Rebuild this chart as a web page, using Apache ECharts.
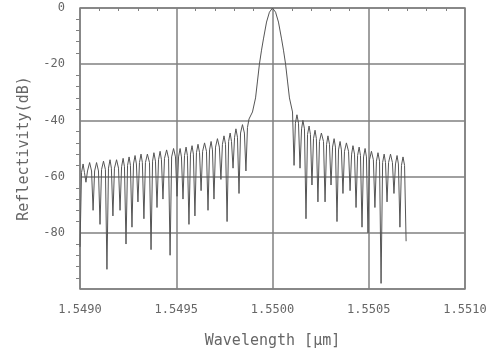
<!DOCTYPE html>
<html>
<head>
<meta charset="utf-8">
<script src="https://cdn.jsdelivr.net/npm/echarts@6/dist/echarts.min.js"></script>
<style>
  html, body { margin: 0; padding: 0; background: #fff; }
  #chart { width: 490px; height: 354px; }
</style>
</head>
<body>
<div id="chart"></div>
<script>
// grating reflection spectrum
// each row of the sidelobe blocks: shoulder, peak, shoulder, null
const leftWavelength = [
  1.549000,
  1.549008, 1.549016, 1.549023, 1.549031,
  1.549039, 1.549050, 1.549060, 1.549068,
  1.549076, 1.549086, 1.549096, 1.549104,
  1.549112, 1.549122, 1.549132, 1.549140,
  1.549148, 1.549156, 1.549163, 1.549171,
  1.549179, 1.549190, 1.549200, 1.549208,
  1.549216, 1.549224, 1.549231, 1.549239,
  1.549247, 1.549255, 1.549262, 1.549270,
  1.549278, 1.549286, 1.549293, 1.549301,
  1.549309, 1.549317, 1.549324, 1.549332,
  1.549340, 1.549350, 1.549361, 1.549369,
  1.549377, 1.549384, 1.549392, 1.549400,
  1.549408, 1.549416, 1.549423, 1.549431,
  1.549439, 1.549450, 1.549460, 1.549468,
  1.549476, 1.549486, 1.549496, 1.549504,
  1.549512, 1.549520, 1.549527, 1.549535,
  1.549543, 1.549551, 1.549558, 1.549566,
  1.549574, 1.549582, 1.549589, 1.549597,
  1.549605, 1.549613, 1.549621, 1.549629,
  1.549637, 1.549647, 1.549657, 1.549665,
  1.549673, 1.549681, 1.549688, 1.549696,
  1.549704, 1.549714, 1.549724, 1.549732,
  1.549740, 1.549748, 1.549756, 1.549764,
  1.549772, 1.549780, 1.549787, 1.549795,
  1.549803, 1.549810, 1.549818, 1.549826,
  1.549834, 1.549844, 1.549854, 1.549862,
  1.549870, 1.549878
];
const leftReflectivity = [
  -85,
  -58.5, -55.5, -58.5, -62,
  -58, -55, -58, -72,
  -58, -55, -58, -77,
  -57.5, -54.5, -57.5, -93,
  -57, -54, -57, -74,
  -57, -54, -57, -72,
  -56.5, -53.5, -56.5, -84,
  -56, -53, -56, -78,
  -55.5, -52.5, -55.5, -69,
  -55, -52, -55, -75,
  -55, -52, -55, -86,
  -54.5, -51.5, -54.5, -71,
  -54, -51, -54, -68,
  -53.5, -50.5, -53.5, -88,
  -53, -50, -53, -67,
  -53, -50, -53, -68,
  -52.5, -49.5, -52.5, -77,
  -52, -49, -52, -74,
  -51.5, -48.5, -51.5, -65,
  -51, -48, -51, -72,
  -50.5, -47.5, -50.5, -68,
  -49.5, -46.5, -49.5, -61,
  -48.5, -45.5, -48.5, -76,
  -47.5, -44.5, -47.5, -57,
  -46, -43, -46, -66,
  -44.5, -41.5, -44.5, -58,
  -42.5, -39.5
];
// main reflection band
const mainWavelength = [
  1.549896, 1.549912, 1.549922, 1.549932, 1.549943, 1.549953, 1.549969, 1.549984,
  1.550000,
  1.550016, 1.550031, 1.550047, 1.550057, 1.550068, 1.550078, 1.550088, 1.550104
];
const mainReflectivity = [
  -37, -32, -26, -20, -15, -11, -5, -1.5,
  0,
  -1.5, -5, -11, -15, -20, -26, -32, -37
];
// each row: null, then shoulder, peak, shoulder
const rightWavelength = [
  1.550112, 1.550119, 1.550127, 1.550135,
  1.550143, 1.550151, 1.550158, 1.550166,
  1.550174, 1.550182, 1.550190, 1.550197,
  1.550205, 1.550213, 1.550221, 1.550228,
  1.550236, 1.550244, 1.550254, 1.550265,
  1.550273, 1.550281, 1.550288, 1.550296,
  1.550304, 1.550312, 1.550320, 1.550327,
  1.550335, 1.550343, 1.550351, 1.550358,
  1.550366, 1.550374, 1.550384, 1.550395,
  1.550403, 1.550411, 1.550418, 1.550426,
  1.550434, 1.550442, 1.550450, 1.550457,
  1.550465, 1.550473, 1.550481, 1.550488,
  1.550496, 1.550504, 1.550514, 1.550524,
  1.550532, 1.550540, 1.550548, 1.550556,
  1.550564, 1.550572, 1.550580, 1.550587,
  1.550595, 1.550603, 1.550613, 1.550623,
  1.550631, 1.550639, 1.550647, 1.550654,
  1.550662, 1.550670, 1.550678, 1.550686,
  1.550694
];
const rightReflectivity = [
  -56, -41, -38, -41,
  -57, -43, -40, -43,
  -75, -45, -42, -45,
  -63, -46.5, -43.5, -46.5,
  -69, -47.5, -44.5, -47.5,
  -69, -48.5, -45.5, -48.5,
  -63, -49.5, -46.5, -49.5,
  -76, -50.5, -47.5, -50.5,
  -66, -51, -48, -51,
  -65, -52, -49, -52,
  -71, -52.5, -49.5, -52.5,
  -78, -53, -50, -53,
  -80, -54, -51, -54,
  -71, -54.5, -51.5, -54.5,
  -98, -55, -52, -55,
  -69, -55, -52, -55,
  -66, -55.5, -52.5, -55.5,
  -78, -56, -53, -56,
  -83
];
const xTicks = [1.5490, 1.5495, 1.5500, 1.5505, 1.5510];
const yTicks = [0, -20, -40, -60, -80];

const wavelength = leftWavelength.concat(mainWavelength, rightWavelength);
const reflectivity = leftReflectivity.concat(mainReflectivity, rightReflectivity);

const chart = echarts.init(document.getElementById('chart'), null, { renderer: 'canvas' });

const mono = 'DejaVu Sans Mono';
const frameColor = '#808080';

chart.setOption({
  animation: false,
  grid: { left: 80, right: 25, top: 8, bottom: 64, show: true, borderColor: frameColor, borderWidth: 1.5 },
  xAxis: {
    type: 'value',
    min: xTicks[0],
    max: xTicks[xTicks.length - 1],
    interval: 0.0005,
    name: 'Wavelength [µm]',
    nameLocation: 'middle',
    nameGap: 45,
    nameTextStyle: { fontFamily: mono, fontSize: 15, color: '#666' },
    axisLine: { show: false },
    axisTick: { show: false },
    minorTick: { show: true, splitNumber: 5, length: 3, lineStyle: { color: frameColor } },
    axisLabel: {
      margin: 15, fontFamily: mono, fontSize: 12, color: '#666',
      formatter: v => v.toFixed(4)
    },
    splitLine: { show: true, lineStyle: { color: frameColor, width: 1.5 } }
  },
  yAxis: {
    type: 'value',
    min: -100,
    max: 0,
    interval: 20,
    name: 'Reflectivity(dB)',
    nameLocation: 'middle',
    nameGap: 48,
    nameRotate: 90,
    nameTextStyle: { fontFamily: mono, fontSize: 15, color: '#666' },
    axisLine: { show: false },
    axisTick: { show: false },
    minorTick: { show: true, splitNumber: 5, length: 4, lineStyle: { color: frameColor } },
    axisLabel: {
      margin: 15, fontFamily: mono, fontSize: 12, color: '#666',
      formatter: v => (yTicks.indexOf(v) >= 0 ? String(v) : '')
    },
    splitLine: { show: true, lineStyle: { color: frameColor, width: 1.5 } }
  },
  series: [{
    type: 'line',
    data: wavelength.map((w, i) => [w, reflectivity[i]]),
    showSymbol: false,
    lineStyle: { color: '#555', width: 1 }
  }]
});
</script>
</body>
</html>
